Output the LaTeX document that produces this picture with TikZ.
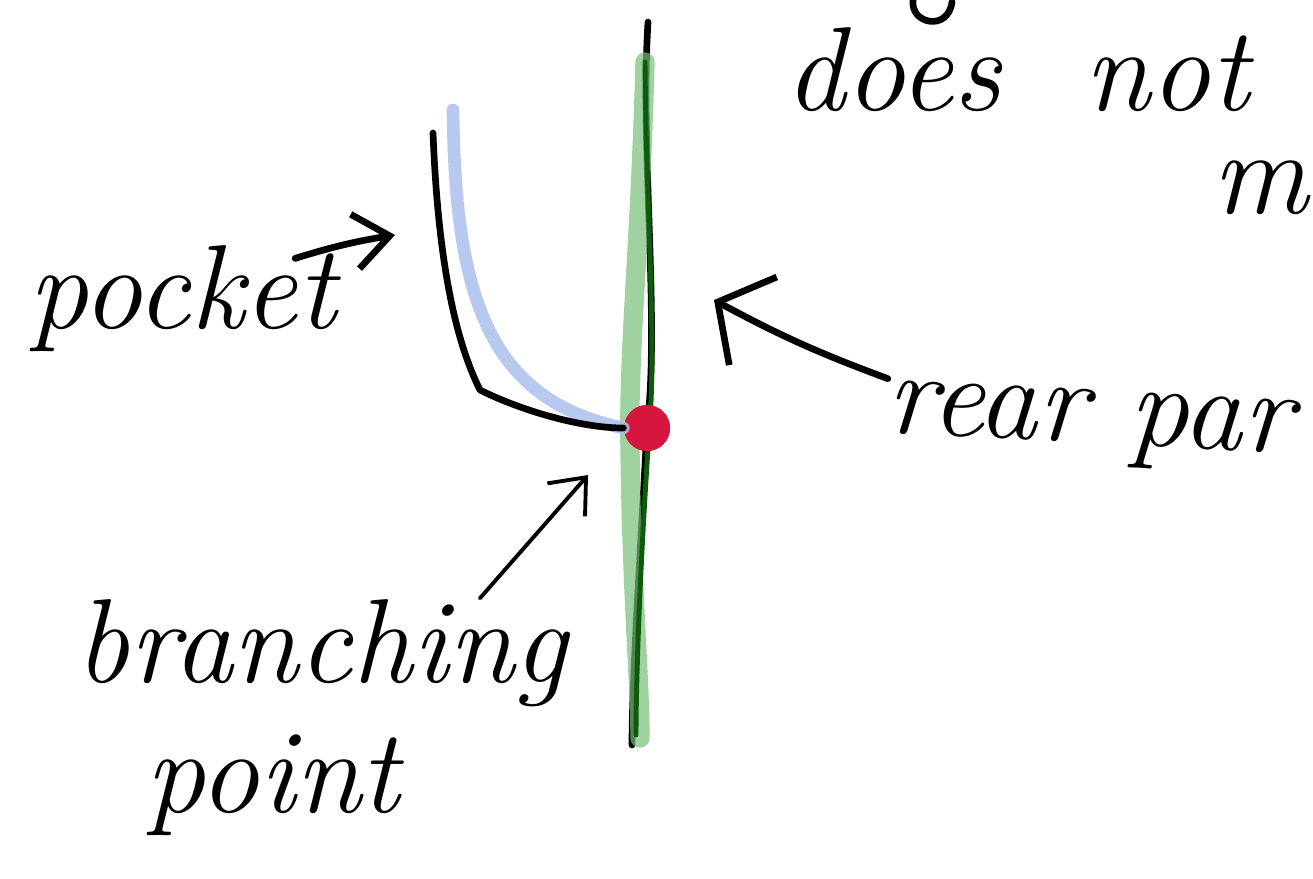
\documentclass[tikz,border=0pt]{standalone}
\usepackage{tikz}
\usetikzlibrary{arrows.meta}

\definecolor{bandgreen}{RGB}{120,190,120}
\definecolor{darkgreen}{RGB}{12,92,12}
\definecolor{pktblue}{RGB}{170,192,236}
\definecolor{dotred}{RGB}{214,22,60}

\begin{document}
\begin{tikzpicture}[
  x=0.01cm, y=-0.01cm,
  ink/.style={line width=1.9pt,line cap=round,line join=round},
  arr/.style={ink,-{Straight Barb[length=3.5mm,width=5.5mm,line width=1.9pt]}},
  rarr/.style={ink,-{Straight Barb[length=4mm,width=10mm,line width=1.9pt]}},
  tarr/.style={line width=1.1pt,line cap=round,-{Straight Barb[length=3mm,width=5mm]}},
  lbl/.style={font=\fontsize{34}{40}\selectfont\itshape,inner sep=0pt,anchor=base west},
  dot/.style={circle,fill=dotred,minimum size=4.6mm,inner sep=0pt}]

  \useasboundingbox (0,0) rectangle (1313,878);
  \clip (0,0) rectangle (1313,878);

  % labels
  \node[lbl] (does) at (785,110) {does\ \ not};
  \node[lbl] (m) at (1212,213) {m};
  \node[lbl,rotate=-3] (rear) at (885,432) {rear par};
  \node[lbl] (pocket) at (28,328) {pocket};
  \node[lbl] (branching) at (75,682) {branching};
  \node[lbl] (point) at (145,812) {point};

  % bit of a letter from the line above
  \draw[ink] (913,0) .. controls (910,24) and (948,32) .. (952,2);

  % spine with the branching point
  \node[dot] (bp) at (647,428) {};
  \coordinate (top) at (648,22);
  \coordinate (bottom) at (632,745);
  \draw[ink] (top) .. controls (640,150) and (660,320) .. (bp.center)
    .. controls (640,560) and (632,680) .. (bottom);
  \draw[line width=5.5pt,bandgreen,opacity=0.7,line cap=round]
    (645,62) .. controls (640,250) and (628,350) .. (630,450)
    .. controls (632,600) and (640,680) .. (640,738);
  \draw[line width=1.4pt,darkgreen,line cap=round]
    (645,62) .. controls (646,200) and (656,330) .. (650,420)
    .. controls (640,560) and (636,680) .. (636,735);
  \node[dot] at (bp) {};

  % pocket
  \draw[line width=3.6pt,pktblue,opacity=0.85,line cap=round]
    (453,110) .. controls (455,300) and (490,400) .. (bp.west);
  \draw[ink] (433,133) .. controls (438,260) and (455,340) .. (480,390)
    .. controls (520,410) and (580,428) .. (bp.west);

  % arrows
  \coordinate (pkt) at (395,235);
  \coordinate (rtip) at (714,300);
  \coordinate (brtip) at (588,475);
  \draw[arr] ([xshift=-12pt,yshift=-4pt]pocket.north east) to[bend left=4] (pkt);
  \draw[rarr] (rear.north west) to[bend left=4] (rtip);
  \draw[tarr] ([xshift=45pt]branching.north) -- (brtip);
\end{tikzpicture}
\end{document}
